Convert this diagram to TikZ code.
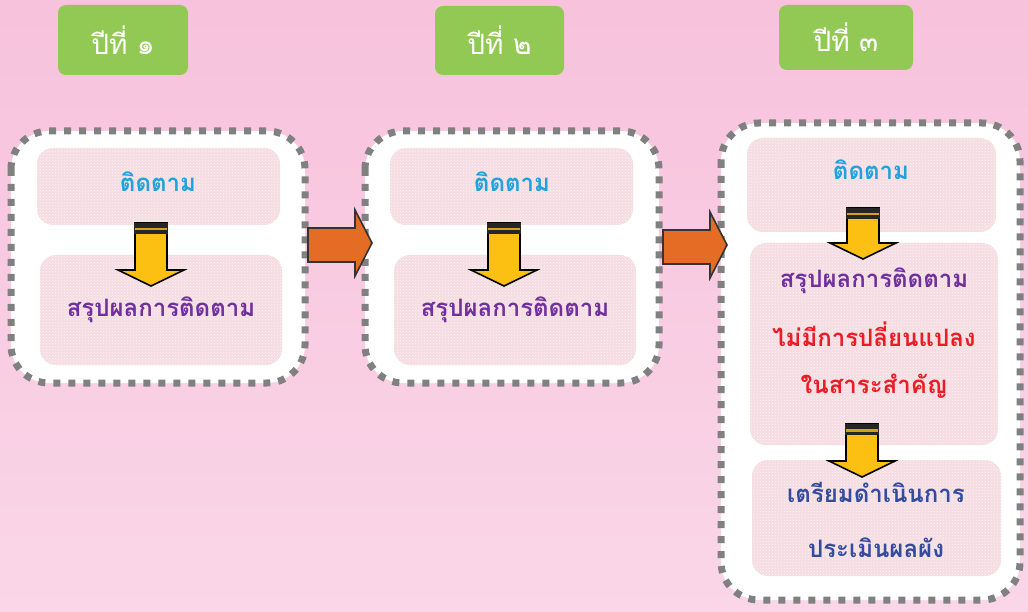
\documentclass[tikz,border=0pt]{standalone}
\usepackage{fontspec}
\newfontfamily\thai[Script=Thai]{Loma}
\usetikzlibrary{patterns}
\definecolor{bgtop}{RGB}{247,194,220}
\definecolor{bgbot}{RGB}{250,214,232}
\definecolor{yeargreen}{RGB}{146,201,85}
\definecolor{dashgray}{RGB}{128,128,128}
\definecolor{innerpink}{RGB}{245,221,226}
\definecolor{txtcyan}{RGB}{30,163,224}
\definecolor{txtpurple}{RGB}{112,48,160}
\definecolor{txtred}{RGB}{236,28,36}
\definecolor{txtblue}{RGB}{52,76,160}
\definecolor{arrowyellow}{RGB}{252,192,18}
\definecolor{arrowgold}{RGB}{214,160,30}
\definecolor{arroworange}{RGB}{228,108,36}
\tikzset{
  yearbox/.style={fill=yeargreen, rounded corners=8pt, text=white, font=\thai\fontsize{28}{32}\selectfont, inner sep=0pt},
  outerbox/.style={draw=dashgray, fill=white, line width=7pt, dash pattern=on 7pt off 8pt, rounded corners=38pt},
  innerbox/.style={fill=innerpink, rounded corners=16pt},
  innertex/.style={pattern=crosshatch dots, pattern color=white!70!innerpink, rounded corners=16pt},
  lbl/.style={font=\thai\bfseries\fontsize{24}{28}\selectfont, inner sep=0pt},
  pics/darrow/.style={code={
    \filldraw[fill=arrowyellow, draw=black, line width=1.6pt, line join=miter]
      (-16,0) -- (16,0) -- (16,#1) -- (33,#1) -- (0,#1+16) -- (-33,#1) -- (-16,#1) -- cycle;
    \fill[black!85] (-16.8,0) rectangle (16.8,11);
    \fill[arrowgold] (-16,5) rectangle (16,7.5);
  }},
  pics/rarrow/.style={code={
    \filldraw[fill=arroworange, draw=black!80, line width=1.6pt, line join=miter]
      (0,0) -- (47,0) -- (47,-18) -- (64,15) -- (47,48) -- (47,34) -- (0,34) -- cycle;
  }}
}
\begin{document}
\begin{tikzpicture}[x=1pt,y=-1pt]
\useasboundingbox (0,0) rectangle (1028,612);
\shade[top color=bgtop, bottom color=bgbot] (0,0) rectangle (1028,612);

% year labels
\node[yearbox, minimum width=130pt, minimum height=70pt] (y1) at (123,40) {ปีที่ ๑};
\node[yearbox, minimum width=129pt, minimum height=69pt] (y2) at (499.5,40.5) {ปีที่ ๒};
\node[yearbox, minimum width=134pt, minimum height=65pt] (y3) at (846,37.5) {ปีที่ ๓};

% outer dashed boxes
\draw[outerbox] (11,131) rectangle (305,383);
\draw[outerbox] (365,131) rectangle (659,383);
\draw[outerbox] (721,123) rectangle (1020,600);

% inner boxes
\foreach \a/\b/\c/\d in {37/148/280/225, 40/255/282/365, 390/148/633/225, 394/255/636/365, 747/138/996/232, 750/243/998/445, 752/460/1001/576}{
  \fill[innerbox] (\a,\b) rectangle (\c,\d);
  \fill[innertex] (\a,\b) rectangle (\c,\d);
}

% orange arrows
\pic at (308,228) {rarrow};
\pic at (663,230) {rarrow};

% yellow arrows
\pic at (151,223) {darrow=47};
\pic at (504,223) {darrow=47};
\pic at (863,208) {darrow=35};
\pic at (862,424) {darrow=37};

% texts
\node[lbl, text=txtcyan] (t1a) at (158,182) {ติดตาม};
\node[lbl, text=txtpurple] (t1b) at (161,310) {สรุปผลการติดตาม};
\node[lbl, text=txtcyan] (t2a) at (512,182) {ติดตาม};
\node[lbl, text=txtpurple] (t2b) at (515,310) {สรุปผลการติดตาม};
\node[lbl, text=txtcyan] (t3a) at (871,170) {ติดตาม};
\node[lbl, text=txtpurple] (t3b) at (874,281) {สรุปผลการติดตาม};
\node[lbl, text=txtred] (t3c) at (874,334) {ไม่มีการปลี่ยนแปลง};
\node[lbl, text=txtred] (t3d) at (874,386) {ในสาระสำคัญ};
\node[lbl, text=txtblue] (t3e) at (876,492) {เตรียมดำเนินการ};
\node[lbl, text=txtblue] (t3f) at (876,548) {ประเมินผลผัง};
\end{tikzpicture}
\end{document}
